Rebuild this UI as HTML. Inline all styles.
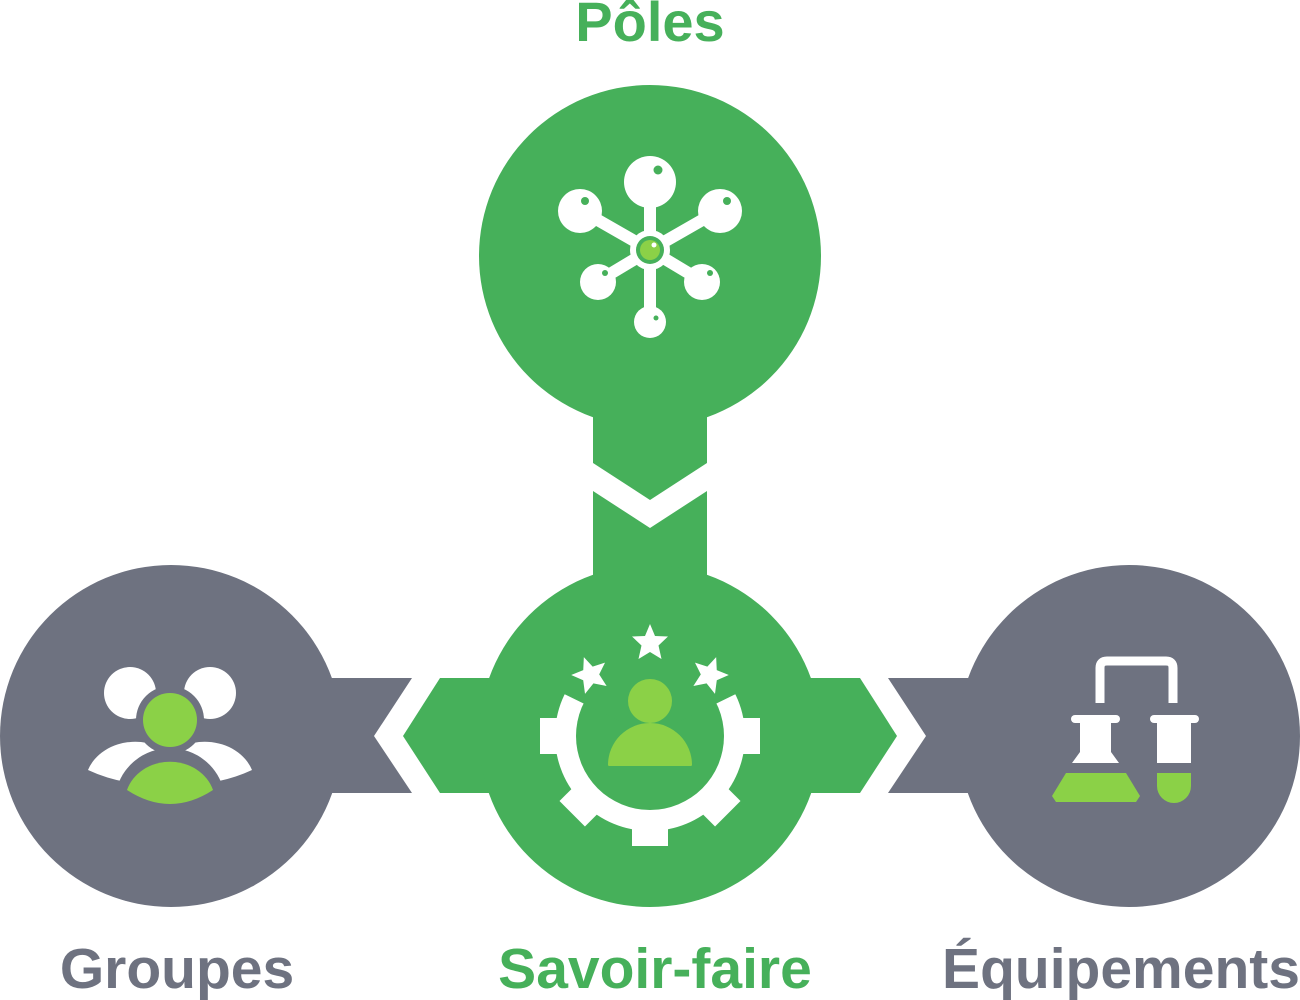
<!DOCTYPE html>
<html><head><meta charset="utf-8"><style>
html,body{margin:0;padding:0;background:#fff;}
svg{display:block}
text{font-family:"Liberation Sans",sans-serif;font-weight:bold;}
</style></head><body>
<svg width="1300" height="1000" viewBox="0 0 1300 1000" xmlns="http://www.w3.org/2000/svg">
<defs>
<g id="star"><polygon points="0,-18 5,-6 18,-5.5 8.5,3.5 11.5,17 0,10 -11.5,17 -8.5,3.5 -18,-5.5 -5,-6" fill="#fff"/></g>
</defs>
<polygon points="593,400 707,400 707,463 650,500 593,463" fill="#46b05a"/>
<polygon points="593,491 650,528 707,491 707,600 593,600" fill="#46b05a"/>
<polygon points="330,678 412,678 374,736 412,793 330,793" fill="#6e7280"/>
<polygon points="500,678 440,678 403,736 440,793 500,793" fill="#46b05a"/>
<polygon points="800,678 860,678 897,736 860,793 800,793" fill="#46b05a"/>
<polygon points="970,678 888,678 926,736 888,793 970,793" fill="#6e7280"/>
<circle cx="650" cy="256" r="171" fill="#46b05a"/>
<circle cx="650" cy="736" r="171" fill="#46b05a"/>
<circle cx="171" cy="736" r="171" fill="#6e7280"/>
<circle cx="1129" cy="736" r="171" fill="#6e7280"/>

<g stroke="#fff" stroke-width="12" stroke-linecap="round">
<line x1="650" y1="250" x2="650" y2="185"/>
<line x1="650" y1="250" x2="582" y2="211"/>
<line x1="650" y1="250" x2="718" y2="211"/>
<line x1="650" y1="250" x2="600" y2="280"/>
<line x1="650" y1="250" x2="700" y2="280"/>
<line x1="650" y1="250" x2="650" y2="320"/>
</g>
<circle cx="650" cy="250" r="20" fill="#fff"/>
<circle cx="650" cy="250" r="14" fill="#46b05a"/>
<circle cx="650" cy="250" r="10" fill="#8bd147"/>
<circle cx="654" cy="245" r="2.5" fill="#fff"/>
<circle cx="650" cy="182" r="26" fill="#fff"/>
<circle cx="658" cy="170" r="4.5" fill="#46b05a"/>
<circle cx="580" cy="211" r="22" fill="#fff"/>
<circle cx="585" cy="201" r="4" fill="#46b05a"/>
<circle cx="720" cy="211" r="22" fill="#fff"/>
<circle cx="727" cy="201" r="4" fill="#46b05a"/>
<circle cx="598" cy="282" r="18" fill="#fff"/>
<circle cx="605" cy="273" r="3" fill="#46b05a"/>
<circle cx="702" cy="282" r="18" fill="#fff"/>
<circle cx="710" cy="273" r="3" fill="#46b05a"/>
<circle cx="650" cy="322" r="16" fill="#fff"/>
<circle cx="656" cy="318" r="2.5" fill="#46b05a"/>

<g fill="#fff">
<circle cx="650" cy="736" r="95"/>
<g transform="translate(650,736)">
<rect x="-18" y="-110" width="36" height="30"/>
<rect x="-18" y="-110" width="36" height="30" transform="rotate(45)"/>
<rect x="-18" y="-110" width="36" height="30" transform="rotate(90)"/>
<rect x="-18" y="-110" width="36" height="30" transform="rotate(135)"/>
<rect x="-18" y="-110" width="36" height="30" transform="rotate(180)"/>
<rect x="-18" y="-110" width="36" height="30" transform="rotate(225)"/>
<rect x="-18" y="-110" width="36" height="30" transform="rotate(270)"/>
<rect x="-18" y="-110" width="36" height="30" transform="rotate(315)"/>
</g>
</g>
<circle cx="650" cy="736" r="74" fill="#46b05a"/>
<polygon points="650,736 556,690 560,600 740,600 744,690" fill="#46b05a"/>
<use href="#star" x="650" y="642"/>
<g transform="rotate(-20 590 674)"><use href="#star" x="590" y="674"/></g>
<g transform="rotate(20 710 674)"><use href="#star" x="710" y="674"/></g>
<circle cx="650" cy="701" r="22" fill="#8bd147"/>
<path d="M608,765 A42,42 0 0 1 692,765 Q692,766 690,766 L610,766 Q608,766 608,765 Z" fill="#8bd147"/>

<circle cx="130" cy="693" r="26" fill="#fff"/>
<circle cx="210" cy="693" r="26" fill="#fff"/>
<path d="M88,770 A50,42 0 0 1 180,765 L160,785 Q120,785 88,770 Z" fill="#fff"/>
<path d="M160,765 A50,42 0 0 1 252,770 Q220,785 180,785 Z" fill="#fff"/>
<circle cx="170" cy="720" r="34" fill="#6e7280"/>
<circle cx="170" cy="720" r="27" fill="#8bd147"/>
<path d="M116,792 A55,54 0 0 1 224,792 L224,802 L116,802 Z" fill="#6e7280"/>
<path d="M127,790 A45,40 0 0 1 213,790 Q170,818 127,790 Z" fill="#8bd147"/>

<path d="M1100,703 L1100,668 Q1100,661 1107,661 L1166,661 Q1173,661 1173,668 L1173,703" fill="none" stroke="#fff" stroke-width="9"/>
<rect x="1071" y="715" width="49" height="8" rx="4" fill="#fff"/>
<polygon points="1080,723 1111,723 1111,752 1119,763 1072,763 1080,752" fill="#fff"/>
<polygon points="1066,773 1126,773 1140,796 1136,802 1056,802 1052,796" fill="#8bd147"/>
<rect x="1150" y="715" width="49" height="8" rx="4" fill="#fff"/>
<rect x="1157" y="723" width="34" height="40" fill="#fff"/>
<path d="M1157,773 L1191,773 L1191,786 A17,17 0 0 1 1157,786 Z" fill="#8bd147"/>

<text x="650" y="41" font-size="56" fill="#46b05a" text-anchor="middle">Pôles</text>
<text x="177" y="988" font-size="57" fill="#6e7280" text-anchor="middle">Groupes</text>
<text x="655" y="988" font-size="57" fill="#46b05a" text-anchor="middle">Savoir-faire</text>
<text x="1121" y="988" font-size="57" fill="#6e7280" text-anchor="middle">Équipements</text>
</svg>
</body></html>
